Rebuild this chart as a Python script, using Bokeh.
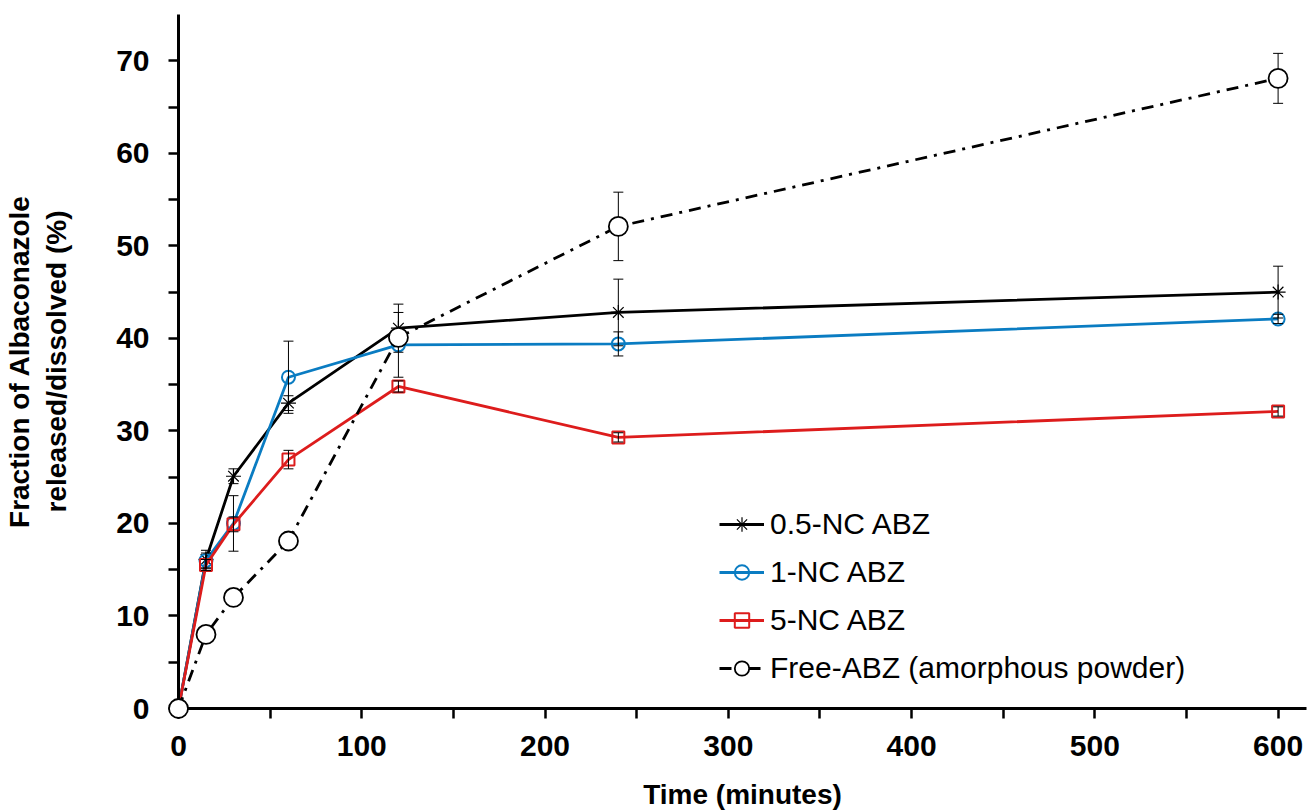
from bokeh.plotting import figure
from bokeh.models import (ColumnDataSource, FixedTicker, Legend, LegendItem,
                          Whisker, TeeHead, Range1d)
from bokeh.embed import file_html
from bokeh.resources import INLINE

# ---------------- data ----------------
time_min = [0, 15, 30, 60, 120, 240, 600]

nc05_y   = [0, 16.1, 25.1, 33.0, 41.1, 42.8, 45.0]
nc05_err = [0, 1.0, 0.8, 0.8, 2.6, 3.6, 2.8]

nc1_y    = [0, 16.0, 20.0, 35.8, 39.3, 39.4, 42.1]
nc1_err  = [0, 0.8, 3.0, 3.9, 3.5, 1.3, 0.5]

nc5_y    = [0, 15.5, 19.9, 26.9, 34.8, 29.3, 32.1]
nc5_err  = [0, 0.6, 0.8, 1.0, 0.6, 0.5, 0.5]

free_y   = [0, 8.0, 12.0, 18.1, 40.1, 52.1, 68.1]
free_err = [0, 0, 0, 0, 0, 3.7, 2.7]

labels = ["0.5-NC ABZ", "1-NC ABZ", "5-NC ABZ", "Free-ABZ (amorphous powder)"]

x_major = [0, 100, 200, 300, 400, 500, 600]
x_minor = [50, 150, 250, 350, 450, 550]
y_major = [0, 10, 20, 30, 40, 50, 60, 70]
y_minor = [5, 15, 25, 35, 45, 55, 65]

x_title = "Time (minutes)"
y_title = "Fraction of Albaconazole\nreleased/dissolved (%)"

BLUE = "#0A7CC2"
RED = "#DD1C1C"
FONT = "Liberation Sans"

p = figure(width=1316, height=812, output_backend="svg", toolbar_location=None,
           x_range=Range1d(0, 615.5), y_range=Range1d(0, 75),
           min_border_left=176, min_border_right=10, min_border_top=14,
           min_border_bottom=103)
p.outline_line_color = None
p.grid.visible = False
p.background_fill_color = "white"
p.border_fill_color = "white"

def mk(y, e):
    return ColumnDataSource(dict(
        x=time_min, y=y,
        lo=[a - b for a, b in zip(y, e)],
        hi=[a + b for a, b in zip(y, e)]))

s05 = mk(nc05_y, nc05_err)
s1 = mk(nc1_y, nc1_err)
s5 = mk(nc5_y, nc5_err)
sf = mk(free_y, free_err)

# error bars
for src in (s05, s1, s5, sf):
    w = Whisker(source=src, base="x", lower="lo", upper="hi",
                line_color="black", line_width=1,
                upper_head=TeeHead(size=10, line_color="black", line_width=1),
                lower_head=TeeHead(size=10, line_color="black", line_width=1),
                level="glyph")
    p.add_layout(w)

# series
l05 = p.line("x", "y", source=s05, line_color="black", line_width=2.8)
m05 = p.scatter("x", "y", source=s05, marker="asterisk", size=15,
                line_color="black", line_width=1.2)

l1 = p.line("x", "y", source=s1, line_color=BLUE, line_width=2.8)
m1 = p.scatter("x", "y", source=s1, marker="circle", size=13,
               line_color=BLUE, fill_color=None, line_width=2)

l5 = p.line("x", "y", source=s5, line_color=RED, line_width=2.8)
m5 = p.scatter("x", "y", source=s5, marker="square", size=12,
               line_color=RED, fill_color=None, line_width=2)

lf = p.line("x", "y", source=sf, line_color="black", line_width=2.8,
            line_dash="12 7 3 7")
mf = p.scatter("x", "y", source=sf, marker="circle", size=19,
               line_color="black", fill_color="white", line_width=1.8,
               level="overlay")

# axes
for ax in (p.xaxis[0], p.yaxis[0]):
    ax.axis_line_width = 3
    ax.major_tick_line_width = 2.5
    ax.minor_tick_line_width = 2.5
    ax.major_tick_in = 0
    ax.major_tick_out = 10
    ax.minor_tick_in = 0
    ax.minor_tick_out = 10
    ax.major_label_text_font = FONT
    ax.major_label_text_font_style = "bold"
    ax.major_label_text_font_size = "30px"
    ax.major_label_text_color = "black"
    ax.axis_label_text_font = FONT
    ax.axis_label_text_font_style = "bold"
    ax.axis_label_text_font_size = "28px"
    ax.axis_label_text_color = "black"

p.xaxis[0].ticker = FixedTicker(ticks=x_major, minor_ticks=x_minor)
p.yaxis[0].ticker = FixedTicker(ticks=y_major, minor_ticks=y_minor)
p.xaxis[0].axis_label = x_title
p.yaxis[0].axis_label = y_title
p.xaxis[0].major_label_standoff = 17
p.yaxis[0].major_label_standoff = 19
p.xaxis[0].axis_label_standoff = 20
p.yaxis[0].axis_label_standoff = 41

legend = Legend(items=[
    LegendItem(label=labels[0], renderers=[l05, m05]),
    LegendItem(label=labels[1], renderers=[l1, m1]),
    LegendItem(label=labels[2], renderers=[l5, m5]),
    LegendItem(label=labels[3], renderers=[lf, mf]),
], location=(541, 22), padding=0, margin=0, spacing=12,
    glyph_width=45, glyph_height=36, label_standoff=6,
    label_text_font=FONT, label_text_font_size="30px",
    label_text_color="black", border_line_color=None,
    background_fill_alpha=0)
p.add_layout(legend, "center")

open("out.html", "w").write(file_html(p, INLINE))
